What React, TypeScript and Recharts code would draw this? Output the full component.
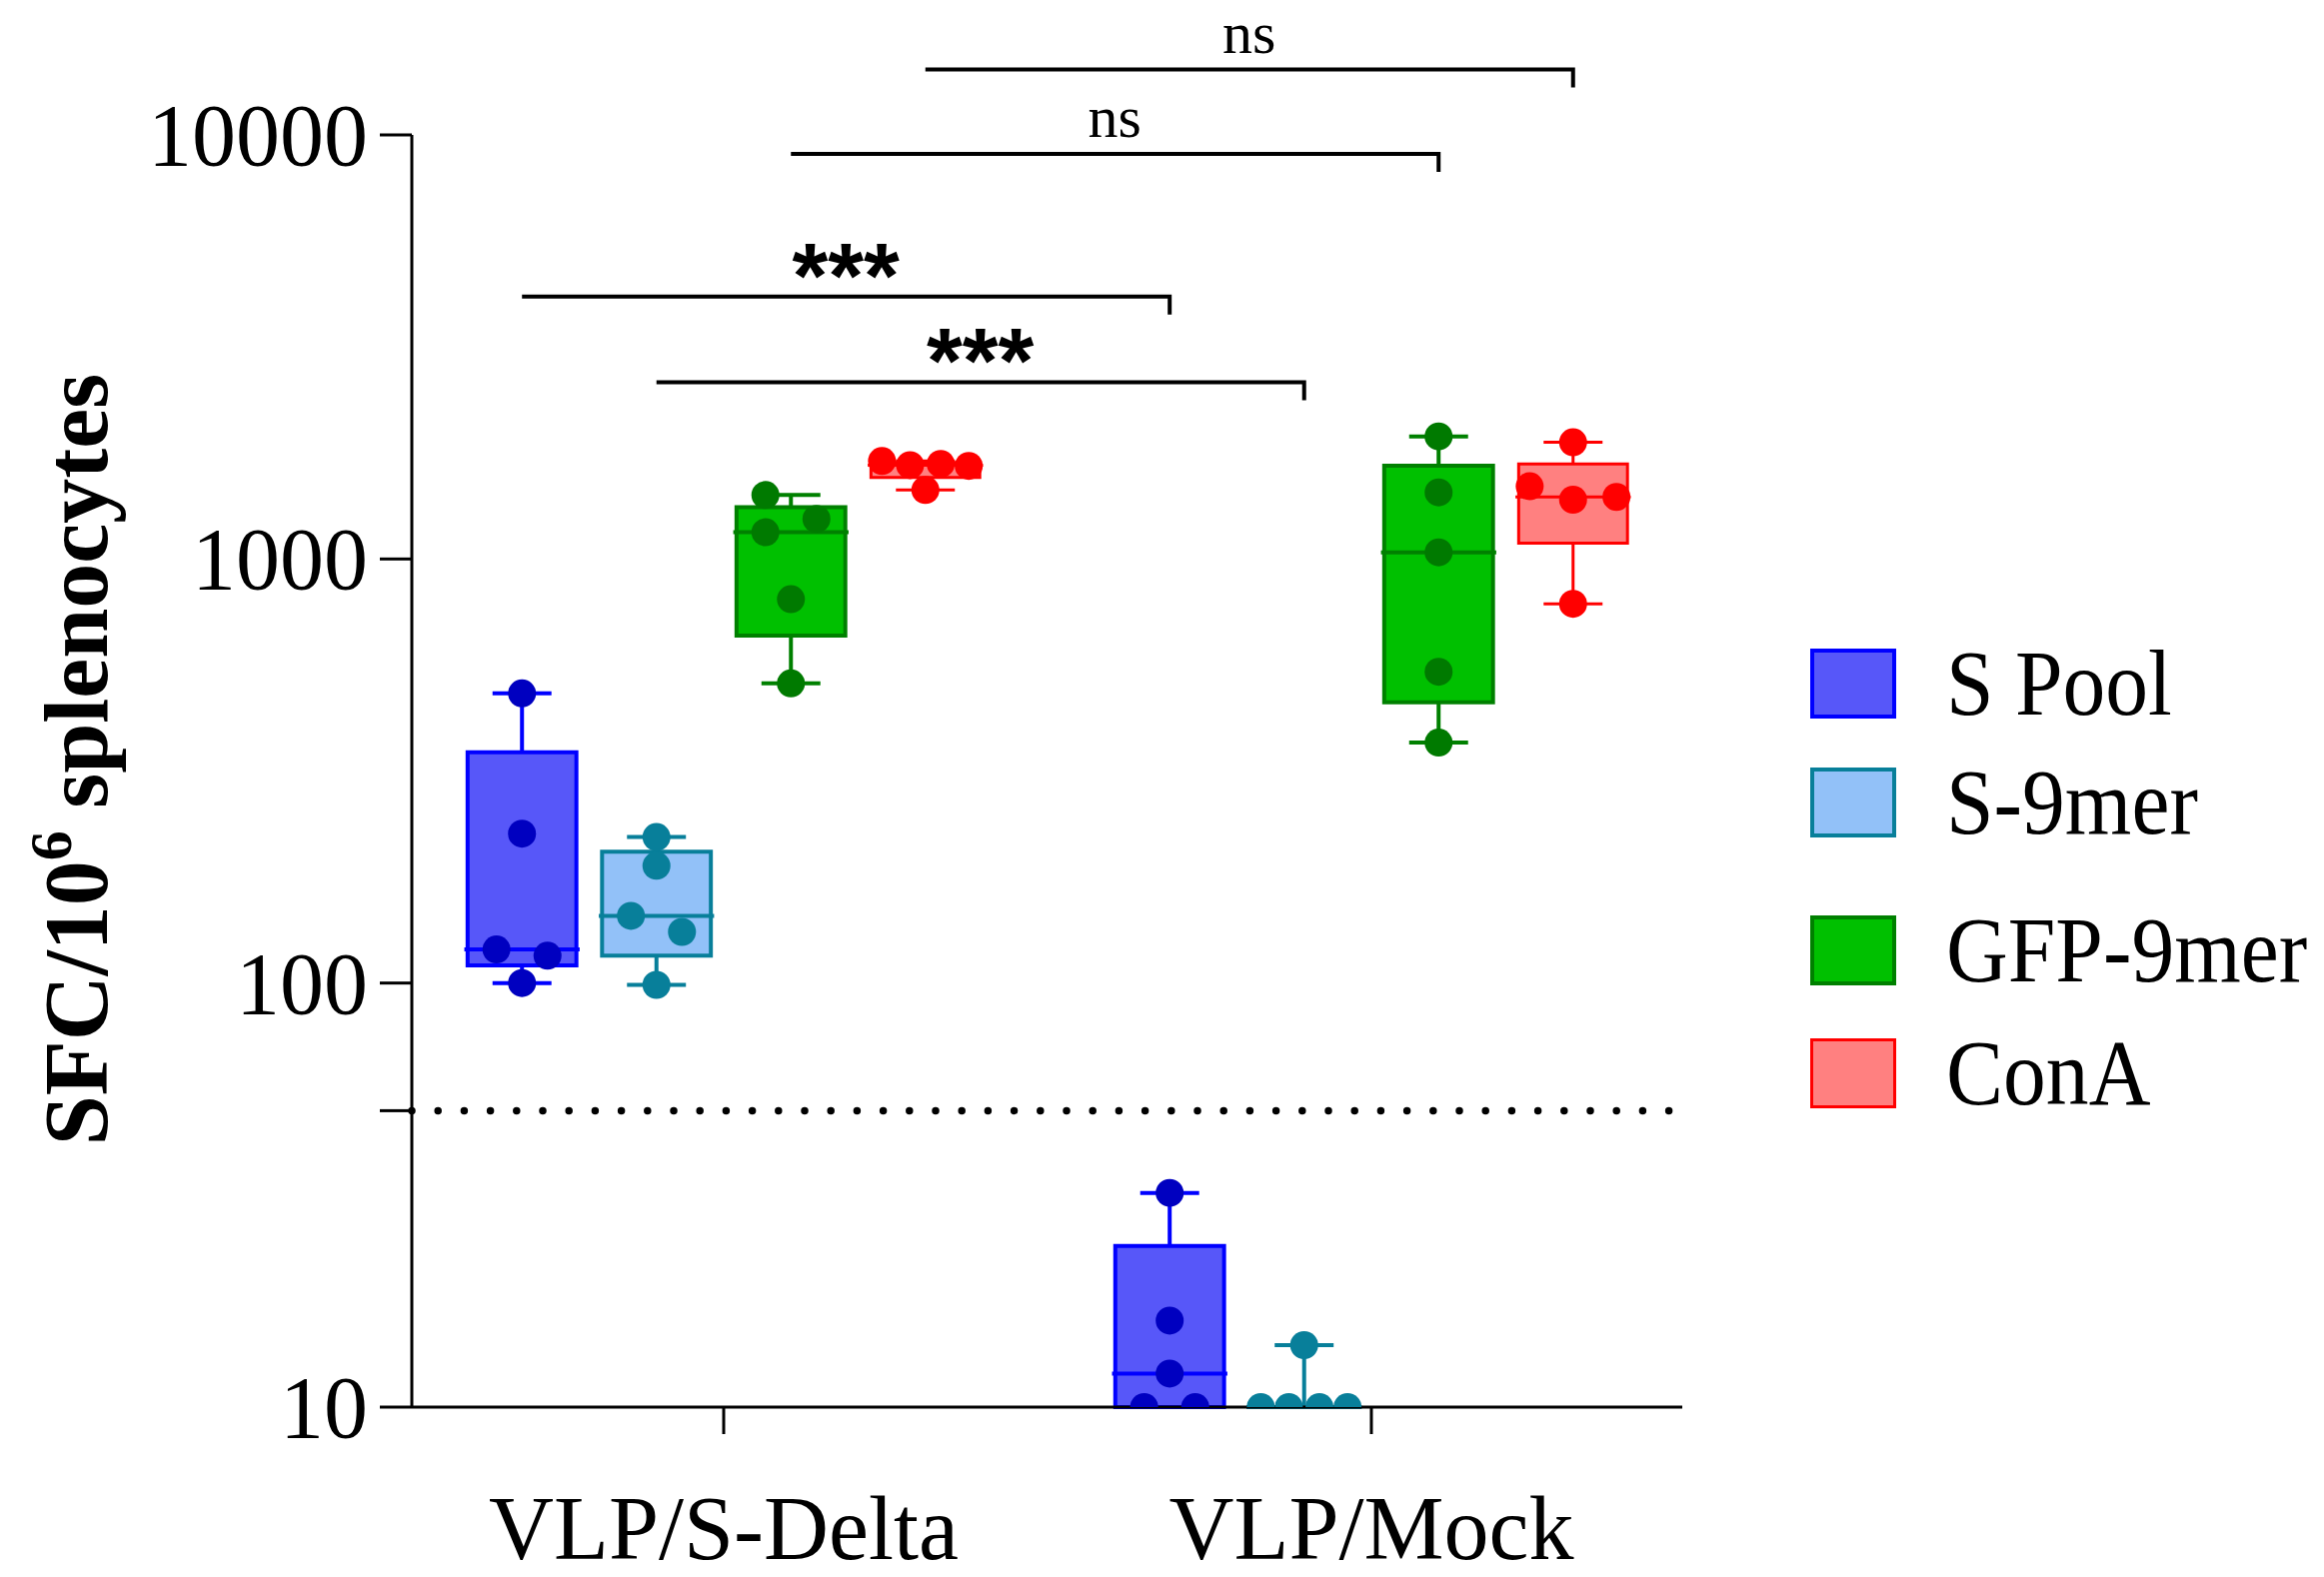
import {
  ComposedChart, Scatter, XAxis, YAxis, ReferenceArea, ReferenceLine, Legend,
} from "recharts";

// categories / series
const CATEGORIES = ["VLP/S-Delta", "VLP/Mock"];
const SERIES = ["S Pool", "S-9mer", "GFP-9mer", "ConA"];

// individual spots per category (SFC / 10^6 splenocytes)
const S_POOL = [[482, 225, 120, 116, 100], [32, 16, 12, 10, 10]];
const S_9MER = [[221, 189, 144, 132, 99], [14, 10, 10, 10, 10]];
const GFP_9MER = [[1415, 1243, 1156, 804, 509], [1946, 1436, 1037, 542, 369]];
const CONA = [[1702, 1665, 1676, 1658, 1454], [1884, 1484, 1380, 1401, 784]];

// box stats: [min, q1, median, q3, max]
const S_POOL_BOX = [[100, 110, 120, 350, 482], [10, 10, 12, 24, 32]];
const S_9MER_BOX = [[99, 116, 144, 204, 221], [10, 10, 10, 10, 14]];
const GFP_9MER_BOX = [[509, 660, 1156, 1325, 1415], [369, 459, 1037, 1660, 1946]];
const CONA_BOX = [[1454, 1556, 1665, 1689, 1702], [784, 1089, 1401, 1675, 1884]];

const Y_TICKS = [10, 50, 100, 1000, 10000];
const THRESHOLD = 50;

// significance brackets: [fromSeries, toSeries, y, label]
const BRACKETS: [number, number, number, string][] = [
  [3, 3, 14260, "ns"],
  [2, 2, 9020, "ns"],
  [0, 0, 4160, "***"],
  [1, 1, 2611, "***"],
];

// styling
const FILL = ["#5757F9", "#92C1F8", "#00C000", "#FF8080"];
const EDGE = ["#0000FF", "#087F9A", "#008000", "#FF0000"];
const DOT = ["#0000C0", "#087F9A", "#007A00", "#FF0000"];
const EDGE_W = [4, 4, 4, 3];

// horizontal jitter of dots, in dot-steps
const JITTER = [
  [[0, 0, -1, 1, 0], [0, 0, 0, -1, 1]],
  [[0, 0, -1, 1, 0], [0, -1.7, -0.6, 0.6, 1.7]],
  [[-1, 1, -1, 0, 0], [0, 0, 0, 0, 0]],
  [[-1.7, -0.6, 0.6, 1.7, 0], [0, -1.7, 0, 1.7, 0]],
];

const POINTS = [S_POOL, S_9MER, GFP_9MER, CONA];
const BOXES = [S_POOL_BOX, S_9MER_BOX, GFP_9MER_BOX, CONA_BOX];

const SLOT = [-0.3114, -0.1038, 0.1038, 0.3114];
const BOX_HALF = 0.084;
const CAP_HALF = 0.0455;
const MED_HALF = 0.089;
const JIT = 0.0394;

const SERIF = '"Liberation Serif", "Times New Roman", serif';

const cx = (g: number, s: number) => g + 1 + SLOT[s];

function YTick(props: any) {
  const { x, y, payload } = props;
  if (payload.value === THRESHOLD) return null;
  return (
    <text x={x} y={y + 30} textAnchor="end" fontFamily={SERIF} fontSize={88} fill="#000">
      {payload.value}
    </text>
  );
}

function XTick(props: any) {
  const { x, y, payload } = props;
  return (
    <text x={x} y={y + 123} textAnchor="middle" fontFamily={SERIF} fontSize={90} fill="#000">
      {CATEGORIES[payload.value - 1]}
    </text>
  );
}

function YLabel() {
  return (
    <text
      x={107} y={760} transform="rotate(-90 107 760)" textAnchor="middle"
      fontFamily={SERIF} fontSize={90} fontWeight="bold" fill="#000"
    >
      SFC/10<tspan dy={-36} fontSize={60}>6</tspan><tspan dy={36}> splenocytes</tspan>
    </text>
  );
}

function bracketShape(label: string) {
  return (p: any) => {
    const mid = (p.x1 + p.x2) / 2;
    const stars = label !== "ns";
    return (
      <g>
        <path d={`M${p.x1},${p.y1}H${p.x2}V${p.y1 + 18}`} stroke="#000" strokeWidth={4} fill="none" />
        <text
          x={mid} y={stars ? p.y1 + 11 : p.y1 - 17} textAnchor="middle"
          fontFamily={stars ? '"Liberation Sans", Arial, sans-serif' : SERIF}
          fontWeight={stars ? "bold" : "normal"} fontSize={stars ? 92 : 60} fill="#000"
        >
          {label}
        </text>
      </g>
    );
  };
}

function LegendBox() {
  const tops = [0, 119, 267, 390];
  return (
    <div style={{ position: "relative", width: 514, height: 470 }}>
      {SERIES.map((name, i) => (
        <div key={name} style={{ position: "absolute", left: 0, top: tops[i], height: 70, display: "flex", alignItems: "center" }}>
          <div style={{
            width: 86 - 2 * EDGE_W[i], height: 70 - 2 * EDGE_W[i], background: FILL[i],
            border: `${EDGE_W[i]}px solid ${EDGE[i]}`,
          }} />
          <span style={{
            marginLeft: 50, fontFamily: SERIF, fontSize: 93, lineHeight: "70px", color: "#000",
            whiteSpace: "nowrap", display: "inline-block", transform: "scaleX(0.92)", transformOrigin: "left center",
          }}>
            {name}
          </span>
        </div>
      ))}
    </div>
  );
}

export default function App() {
  const boxEls: any[] = [];
  BOXES.forEach((box, s) => {
    box.forEach(([min, q1, med, q3, max], g) => {
      const c = cx(g, s);
      const k = `${s}-${g}`;
      const line = { stroke: EDGE[s], strokeWidth: EDGE_W[s], ifOverflow: "visible" as const };
      boxEls.push(
        <ReferenceLine key={`wl${k}`} segment={[{ x: c, y: min }, { x: c, y: q1 }]} {...line} />,
        <ReferenceLine key={`wh${k}`} segment={[{ x: c, y: q3 }, { x: c, y: max }]} {...line} />,
        <ReferenceLine key={`cl${k}`} segment={[{ x: c - CAP_HALF, y: min }, { x: c + CAP_HALF, y: min }]} {...line} />,
        <ReferenceLine key={`ch${k}`} segment={[{ x: c - CAP_HALF, y: max }, { x: c + CAP_HALF, y: max }]} {...line} />,
      );
      if (q3 > q1) {
        boxEls.push(
          <ReferenceArea key={`b${k}`} x1={c - BOX_HALF} x2={c + BOX_HALF} y1={q1} y2={q3}
            fill={FILL[s]} fillOpacity={1} stroke={EDGE[s]} strokeWidth={EDGE_W[s]} ifOverflow="visible" />,
        );
      }
      boxEls.push(
        <ReferenceLine key={`m${k}`} segment={[{ x: c - MED_HALF, y: med }, { x: c + MED_HALF, y: med }]} {...line} />,
      );
    });
  });

  const scatterData = POINTS.map((groups, s) =>
    groups.flatMap((vals, g) => vals.map((v, i) => ({ x: cx(g, s) + JITTER[s][g][i] * JIT, y: v }))),
  );

  return (
    <div style={{ position: "absolute", left: 0, top: 0, width: 2325, height: 1578, background: "#fff" }}>
      <ComposedChart width={2325} height={1578} margin={{ top: 135, right: 642, bottom: 0, left: 112 }}>
        <XAxis
          type="number" dataKey="x" domain={[0.5185, 2.48]} ticks={[1, 2]} allowDataOverflow
          tickSize={27} tickMargin={2} height={170}
          axisLine={{ stroke: "#000", strokeWidth: 3 }} tickLine={{ stroke: "#000", strokeWidth: 3 }}
          tick={<XTick />}
        />
        <YAxis
          type="number" dataKey="y" scale="log" domain={[10, 10000]} ticks={Y_TICKS} allowDataOverflow
          width={300} tickSize={32} tickMargin={12}
          axisLine={{ stroke: "#000", strokeWidth: 3 }} tickLine={{ stroke: "#000", strokeWidth: 3 }}
          tick={<YTick />}
          label={{ content: () => <YLabel /> }}
        />
        {boxEls}
        <ReferenceLine y={THRESHOLD} stroke="#000" strokeWidth={7.5} strokeLinecap="round" strokeDasharray="0 26.2" />
        {scatterData.map((data, s) => (
          <Scatter
            key={SERIES[s]} name={SERIES[s]} data={data} isAnimationActive={false}
            shape={(p: any) => <circle cx={p.cx} cy={p.cy} r={14} fill={DOT[s]} />}
          />
        ))}
        {BRACKETS.map(([a, b, y, label], i) => (
          <ReferenceLine
            key={`br${i}`} ifOverflow="visible"
            segment={[{ x: cx(0, a), y }, { x: cx(1, b), y }]}
            shape={bracketShape(label)}
          />
        ))}
        <Legend
          layout="vertical" align="center" verticalAlign="middle"
          wrapperStyle={{ left: 1811, top: 649, width: 514 }}
          content={() => <LegendBox />}
        />
      </ComposedChart>
    </div>
  );
}
